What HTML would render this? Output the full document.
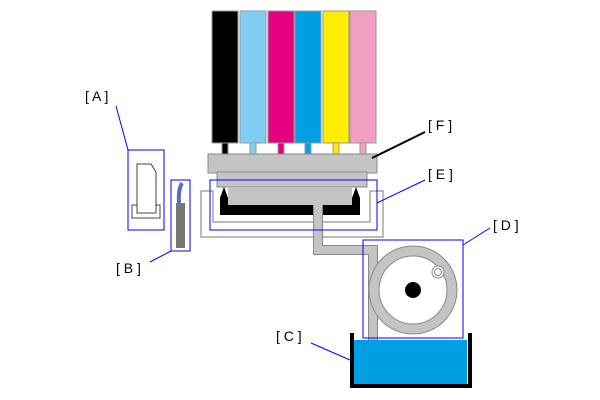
<!DOCTYPE html>
<html><head><style>body{margin:0;background:#fff}svg{display:block}</style></head><body>
<svg width="600" height="400" viewBox="0 0 600 400" xmlns="http://www.w3.org/2000/svg" font-family="Liberation Sans, sans-serif" font-size="14">
<!-- cartridges -->
<g stroke="#999" stroke-width="1">
<rect x="212" y="11" width="26" height="132" fill="#000"/>
<rect x="240" y="11" width="26" height="132" fill="#7fcdf2"/>
<rect x="268" y="11" width="26" height="132" fill="#e4007f"/>
<rect x="295" y="11" width="26" height="132" fill="#009fe3"/>
<rect x="323" y="11" width="26" height="132" fill="#ffed00"/>
<rect x="350" y="11" width="26" height="132" fill="#f19ec2"/>
<rect x="222" y="143" width="6" height="11" fill="#000"/>
<rect x="250" y="143" width="6" height="11" fill="#7fcdf2"/>
<rect x="278" y="143" width="6" height="11" fill="#e4007f"/>
<rect x="305" y="143" width="6" height="11" fill="#009fe3"/>
<rect x="333" y="143" width="6" height="11" fill="#ffed00"/>
<rect x="360" y="143" width="6" height="11" fill="#f19ec2"/>
</g>
<!-- tray -->
<path d="M201,191 H213 V222 H370 V191 H383 V237 H201 Z" fill="#fff" stroke="#777" stroke-width="1"/>
<!-- manifold -->
<rect x="208" y="154" width="169" height="19" fill="#c4c4c4" stroke="#888"/>
<rect x="217" y="172" width="150" height="15" fill="#c4c4c4" stroke="#888"/>
<!-- cap -->
<path d="M220,215 V198 L224,187 L228,198 V205 H352 V198 L356,187 L360,198 V215 Z" fill="#000"/>
<rect x="228" y="187" width="124" height="18" fill="#c4c4c4"/>
<!-- tube -->
<path d="M318,205 V250 H373 V340" fill="none" stroke="#888" stroke-width="10"/>
<path d="M318,205 V250 H373 V340" fill="none" stroke="#c4c4c4" stroke-width="8"/>
<!-- pump -->
<circle cx="413" cy="290" r="39" fill="none" stroke="#888" stroke-width="11"/>
<circle cx="413" cy="290" r="39" fill="none" stroke="#c4c4c4" stroke-width="9"/>
<circle cx="413" cy="290" r="8" fill="#000"/>
<circle cx="438" cy="272" r="6" fill="#fff" stroke="#888" stroke-width="1"/>
<circle cx="438" cy="272" r="3.5" fill="#fff" stroke="#888" stroke-width="1"/>
<!-- tank -->
<rect x="354" y="340" width="113" height="44" fill="#009fe3"/>
<path d="M352,333 V386 H470 V333" fill="none" stroke="#000" stroke-width="4"/>
<!-- A part -->
<rect x="132" y="205" width="28" height="13" fill="#fff" stroke="#444"/>
<path d="M137,213 V164 H151 L156,172 V213 Z" fill="#fff" stroke="#444"/>
<!-- B part -->
<rect x="176" y="203" width="9" height="45" fill="#777"/>
<path d="M179,203 Q178,190 182,183" stroke="#5070c0" stroke-width="4" fill="none"/>
<!-- boxes -->
<g fill="none" stroke="#00f" stroke-width="1">
<rect x="128" y="150" width="36" height="80"/>
<rect x="171" y="180" width="19" height="71"/>
<rect x="210" y="180" width="167" height="50"/>
<rect x="363" y="240" width="100" height="98"/>
<line x1="116" y1="106" x2="128" y2="150"/>
<line x1="150" y1="262" x2="171" y2="251"/>
<line x1="377" y1="203" x2="425" y2="180"/>
<line x1="463" y1="245" x2="490" y2="228"/>
<line x1="311" y1="343" x2="350" y2="360"/>
</g>
<line x1="372" y1="158" x2="425" y2="132" stroke="#000" stroke-width="2"/>
<g fill="#000">
<text x="85" y="101">[ A ]</text>
<text x="116" y="273">[ B ]</text>
<text x="276" y="341">[ C ]</text>
<text x="493" y="230">[ D ]</text>
<text x="428" y="179">[ E ]</text>
<text x="428" y="130">[ F ]</text>
</g>
</svg>
</body></html>
